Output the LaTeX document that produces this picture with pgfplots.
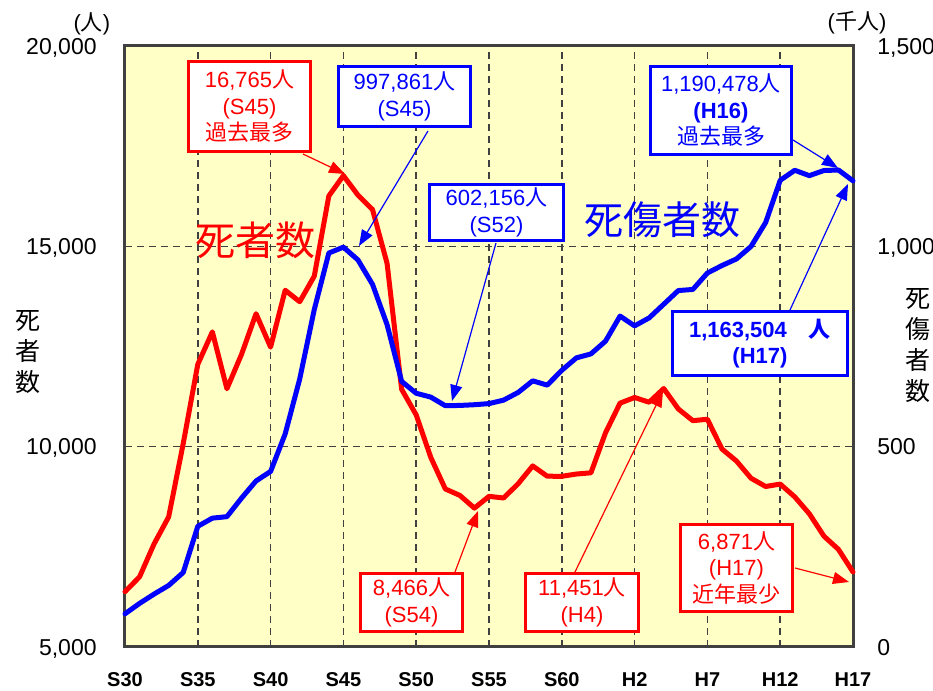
\documentclass[border=0pt]{standalone}
\usepackage{fontspec}
\setmainfont{Liberation Sans}
\newfontfamily\cjk{Noto Sans CJK JP}
\usepackage{pgfplots}
\usepackage{pgfplotstable}
\pgfplotsset{compat=1.18}
\usetikzlibrary{arrows.meta}
\definecolor{bgy}{RGB}{255,255,198}
\definecolor{frame}{RGB}{64,64,64}
\definecolor{myred}{RGB}{255,0,0}
\definecolor{myblue}{RGB}{0,0,255}

\pgfplotstableread{
year deaths
1955 6379
1956 6751
1957 7575
1958 8248
1959 10079
1960 12055
1961 12865
1962 11445
1963 12301
1964 13318
1965 12484
1966 13904
1967 13618
1968 14256
1969 16257
1970 16765
1971 16278
1972 15918
1973 14574
1974 11432
1975 10792
1976 9734
1977 8945
1978 8783
1979 8466
1980 8760
1981 8719
1982 9073
1983 9520
1984 9262
1985 9261
1986 9317
1987 9347
1988 10344
1989 11086
1990 11227
1991 11109
1992 11451
1993 10942
1994 10649
1995 10684
1996 9942
1997 9640
1998 9211
1999 9006
2000 9066
2001 8747
2002 8326
2003 7768
2004 7436
2005 6871
}\deaths

\pgfplotstableread{
year cas
1955 82.9
1956 108.8
1957 132.1
1958 153.7
1959 186.0
1960 301.2
1961 321.6
1962 325.3
1963 371.4
1964 414.4
1965 438.2
1966 531.7
1967 669.0
1968 842.3
1969 983.3
1970 997.9
1971 966.0
1972 905.1
1973 804.5
1974 662.9
1975 633.3
1976 623.7
1977 602.2
1978 602.9
1979 604.7
1980 607.5
1981 616.1
1982 635.3
1983 664.3
1984 653.6
1985 690.6
1986 721.6
1987 731.5
1988 763.2
1989 825.9
1990 801.5
1991 821.4
1992 855.5
1993 889.6
1994 892.4
1995 933.4
1996 952.1
1997 968.6
1998 999.9
1999 1059.4
2000 1164.8
2001 1189.8
2002 1176.4
2003 1189.2
2004 1190.5
2005 1163.5
}\casualties

\tikzset{
  rbox/.style={draw=myred, line width=1.5pt, fill=white, text=myred, align=center, inner sep=0pt, font=\fontsize{11pt}{13.25pt}\selectfont},
  bbox/.style={draw=myblue, line width=1.5pt, fill=white, text=myblue, align=center, inner sep=0pt, font=\fontsize{11pt}{13.25pt}\selectfont},
  rarr/.style={myred, line width=0.6pt, -{Triangle[length=8pt,width=6pt]}},
  barr/.style={myblue, line width=0.6pt, -{Triangle[length=8pt,width=6pt]}},
}

\begin{document}
\begin{tikzpicture}
\useasboundingbox (-62.5pt,-22pt) rectangle (404pt,323.5pt);
% left axis: deaths
\begin{axis}[
  at={(0pt,0pt)}, anchor=south west, scale only axis,
  width=364pt, height=300.5pt,
  xmin=1955, xmax=2005, ymin=5000, ymax=20000,
  scaled y ticks=false, scaled x ticks=false,
  axis background/.style={fill=bgy},
  axis line style={frame, line width=1.5pt},
  major tick length=0pt,
  xtick={1955,1960,...,2005},
  xticklabels={S30,S35,S40,S45,S50,S55,S60,H2,H7,H12,H17},
  ytick={5000,10000,15000,20000},
  yticklabels={{5,000},{10,000},{15,000},{20,000}},
  xmajorgrids, ymajorgrids,
  grid style={frame, line width=0.8pt, dash pattern=on 3.5pt off 2.5pt},
  xticklabel style={font=\bfseries\fontsize{10pt}{12pt}\selectfont, anchor=center, inner sep=0pt, yshift=-16.5pt},
  yticklabel style={font=\fontsize{11.5pt}{13pt}\selectfont, anchor=base east, inner sep=0pt, xshift=-14pt, yshift=-4.1pt},
  clip=false,
]
\addplot[myred, line width=2.5pt, line join=round, line cap=round] table[x=year, y=deaths] {\deaths};
\end{axis}
% right axis: casualties (thousands)
\begin{axis}[
  at={(0pt,0pt)}, anchor=south west, scale only axis,
  width=364pt, height=300.5pt,
  xmin=1955, xmax=2005, ymin=0, ymax=1500,
  scaled y ticks=false,
  hide x axis, axis y line*=right,
  axis line style={draw=none},
  major tick length=0pt,
  ytick={0,500,1000,1500},
  yticklabels={0,500,{1,000},{1,500}},
  yticklabel style={font=\fontsize{11.5pt}{13pt}\selectfont, anchor=base west, inner sep=0pt, xshift=12pt, yshift=-4.1pt},
  clip=false,
]
\addplot[myblue, line width=2.5pt, line join=round, line cap=round] table[x=year, y=cas] {\casualties};
\end{axis}

\begin{scope}[x=0.5pt, y=-0.5pt, shift={(-62.5pt,323.5pt)}]
% arrows
\draw[rarr] (303,154) -- (345,174);
\draw[barr] (428,131) -- (359,246);
\draw[barr] (496,243) -- (452,401);
\draw[barr] (793,140) -- (838,168);
\draw[barr] (790,310) -- (848,184);
\draw[rarr] (455,572) -- (478,511);
\draw[rarr] (575,572) -- (663,391);
\draw[rarr] (795,568) -- (849,582);
% boxes
\node[rbox, minimum width=61pt, minimum height=45pt] at (249.5,106.5) {16,765{\cjk 人}\\(S45)\\{\cjk 過去最多}};
\node[bbox, minimum width=66pt, minimum height=30pt] at (404.5,96.5) {997,861{\cjk 人}\\(S45)};
\node[bbox, minimum width=67pt, minimum height=28pt] at (496.5,212.5) {602,156{\cjk 人}\\(S52)};
\node[bbox, minimum width=70.5pt, minimum height=44pt] at (721,110.5) {1,190,478{\cjk 人}\\\textbf{(H16)}\\{\cjk 過去最多}};
\node[bbox, minimum width=87.5pt, minimum height=32pt, font=\bfseries\fontsize{11pt}{13.25pt}\selectfont] at (760,343.5) {1,163,504\quad{\cjk 人}\\(H17)};
\node[rbox, minimum width=51pt, minimum height=29pt] at (411.5,602.5) {8,466{\cjk 人}\\(S54)};
\node[rbox, minimum width=56.5pt, minimum height=29pt] at (582,602.5) {11,451{\cjk 人}\\(H4)};
\node[rbox, minimum width=56pt, minimum height=43.5pt] at (736.5,568) {6,871{\cjk 人}\\(H17)\\{\cjk 近年最少}};
% series labels
\node[text=myred, font=\cjk\fontsize{20pt}{24pt}\selectfont] at (256,240) {死者数};
\node[text=myblue, font=\cjk\fontsize{19.5pt}{24pt}\selectfont] at (662,220) {死傷者数};
% axis titles
\node[font=\cjk\fontsize{12.5pt}{15.5pt}\selectfont, align=center] at (28,352) {死\\者\\数};
\node[font=\cjk\fontsize{12.5pt}{15.5pt}\selectfont, align=center] at (918,346) {死\\傷\\者\\数};
\node[font=\fontsize{11pt}{13pt}\selectfont] at (92,24) {({\cjk 人})};
\node[font=\fontsize{11pt}{13pt}\selectfont] at (857,23) {({\cjk 千人})};
\end{scope}
\end{tikzpicture}
\end{document}
